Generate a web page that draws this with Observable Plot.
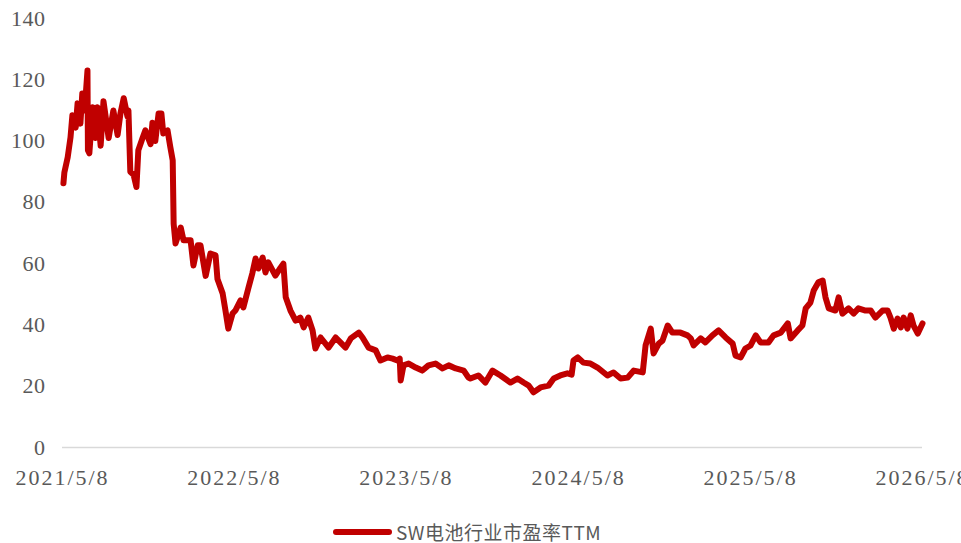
<!DOCTYPE html>
<html>
<head>
<meta charset="utf-8">
<script src="https://cdn.jsdelivr.net/npm/d3@7"></script>
<script src="https://cdn.jsdelivr.net/npm/@observablehq/plot@0.6"></script>
<style>
  html, body { margin: 0; padding: 0; background: #fff; overflow: hidden; }
  #wrap { position: relative; width: 961px; height: 543px; overflow: hidden; }
  #legend { position: absolute; left: 333px; top: 522px; height: 20px; line-height: 20px; display: flex; align-items: center;
    font-family: "Noto Sans CJK SC", "Noto Sans", sans-serif; font-size: 19px; letter-spacing: 0.5px; color: #595959; white-space: nowrap; }
  #legend .sw { width: 59px; height: 6px; background: #C00000; border-radius: 3px; margin-right: 4px; }
  .yax text { letter-spacing: 0.5px; }
  .xax text { letter-spacing: 2px; }
</style>
</head>
<body>
<div id="wrap">
  <div id="chart"></div>
  <div id="legend"><span class="sw"></span><span>SW电池行业市盈率TTM</span></div>
</div>
<script>
const seriesName = "SW电池行业市盈率TTM";
const dates = [
"2021-05-10","2021-05-12","2021-05-19","2021-05-25","2021-05-29","2021-06-05","2021-06-09","2021-06-15","2021-06-19","2021-06-24",
"2021-06-30","2021-07-01","2021-07-04","2021-07-11","2021-07-17","2021-07-21","2021-07-28","2021-08-03","2021-08-14","2021-08-24",
"2021-09-02","2021-09-08","2021-09-15","2021-09-23","2021-09-25","2021-09-29","2021-10-06","2021-10-12","2021-10-16","2021-10-25",
"2021-10-31","2021-11-11","2021-11-15","2021-11-21","2021-11-28","2021-12-04","2021-12-08","2021-12-17","2021-12-23","2021-12-28",
"2021-12-30","2022-01-03","2022-01-14","2022-01-20","2022-02-04","2022-02-10","2022-02-19","2022-02-25","2022-03-08","2022-03-18",
"2022-03-29","2022-04-02","2022-04-13","2022-04-19","2022-04-25","2022-05-04","2022-05-10","2022-05-21","2022-05-27","2022-06-07",
"2022-06-15","2022-06-22","2022-06-28","2022-07-07","2022-07-13","2022-07-19","2022-08-03","2022-08-14","2022-08-20","2022-08-25",
"2022-09-04","2022-09-15","2022-09-25","2022-10-02","2022-10-12","2022-10-21","2022-10-27","2022-11-07","2022-11-24","2022-12-09",
"2022-12-19","2022-12-30","2023-01-10","2023-01-27","2023-02-04","2023-02-17","2023-03-04","2023-03-14","2023-03-29","2023-04-09",
"2023-04-19","2023-04-24","2023-04-26","2023-05-02","2023-05-13","2023-05-28","2023-06-11","2023-06-24","2023-07-09","2023-07-24",
"2023-08-06","2023-08-21","2023-09-07","2023-09-17","2023-09-21","2023-10-08","2023-10-23","2023-11-07","2023-11-24","2023-12-15",
"2023-12-30","2024-01-12","2024-01-23","2024-02-02","2024-02-17","2024-03-05","2024-03-16","2024-03-30","2024-04-14","2024-04-23",
"2024-04-27","2024-05-06","2024-05-18","2024-06-02","2024-06-17","2024-07-08","2024-07-21","2024-08-05","2024-08-20","2024-09-02",
"2024-09-21","2024-09-27","2024-10-08","2024-10-14","2024-10-25","2024-11-02","2024-11-13","2024-11-23","2024-12-10","2024-12-25",
"2025-01-01","2025-01-07","2025-01-22","2025-02-01","2025-02-16","2025-03-01","2025-03-16","2025-03-31","2025-04-06","2025-04-17",
"2025-04-27","2025-05-08","2025-05-19","2025-05-29","2025-06-15","2025-06-26","2025-07-11","2025-07-26","2025-08-01","2025-08-16",
"2025-08-26","2025-09-02","2025-09-12","2025-09-19","2025-09-29","2025-10-08","2025-10-14","2025-10-21","2025-11-04","2025-11-11",
"2025-11-19","2025-12-02","2025-12-13","2025-12-23","2026-01-07","2026-01-18","2026-01-28","2026-02-12","2026-02-23","2026-03-01",
"2026-03-08","2026-03-16","2026-03-23","2026-03-29","2026-04-06","2026-04-13","2026-04-19","2026-04-28","2026-05-08"
];
const peValues = [
86.2,89.8,94.7,101.2,108.4,104.4,112.3,105.7,115.5,110,
123,97,96,111,101,111,98.5,113,101,110,
102,109,114,108,110,90,89,85,97,101,
103.5,99,106,100,109,109,102.5,103.5,98,93.7,
73,66.6,71.8,67.6,67.6,59.4,66,66,56,63.3,
62.7,55,50.3,44.7,38.8,43.7,44.7,48,45.7,52.2,
56.8,61.7,58.4,62,57.1,60.4,56.1,58.7,60,49,
44.7,41.4,42.4,39.2,42.4,38.2,32.3,35.9,32.6,35.9,
34.3,32.6,35.6,37.5,35.9,32.6,31.7,28.4,29.4,29,
28.4,29,21.9,26.8,27.4,26.1,25.1,26.8,27.4,25.8,
26.8,25.8,25.1,22.8,22.5,23.5,21.2,25.1,23.5,21.2,
22.5,21.2,20.2,18,19.6,20.2,22.5,23.5,24.2,23.8,
28.4,29.4,27.7,27.4,26.1,23.5,24.5,22.5,22.8,25.1,
24.5,33.3,38.8,30.7,33.9,34.9,39.8,37.5,37.5,36.6,
35.6,33.3,35.6,34.3,36.6,38.2,35.9,33.9,30,29.4,
32.3,33.3,36.6,34.3,34.3,36.6,37.5,40.5,35.6,38.2,
39.8,45.4,47.3,51.2,53.9,54.5,49,45.4,44.7,49,
43.7,45.4,43.7,45.4,44.7,44.7,42.4,44.7,44.7,42.4,
38.8,42.1,39.2,42.4,38.8,43.1,39.8,37.2,40.5
];
const xTickDates = ["2021-05-08","2022-05-08","2023-05-08","2024-05-08","2025-05-08","2026-05-08"];
const yTicks = [0,20,40,60,80,100,120,140];

const data = dates.map((d, i) => ({date: new Date(d + "T00:00:00Z"), value: peValues[i]}));
const xt = xTickDates.map(d => new Date(d + "T00:00:00Z"));
const fmt = d => `${d.getUTCFullYear()}/${d.getUTCMonth() + 1}/${d.getUTCDate()}`;

const chart = Plot.plot({
  width: 961,
  height: 497,
  marginLeft: 62,
  marginRight: 39,
  marginTop: 18,
  marginBottom: 50,
  style: {fontFamily: "'Liberation Serif', 'DejaVu Serif', serif", fontSize: "22px", color: "#595959", background: "#fff", overflow: "visible"},
  x: {type: "utc", domain: [xt[0], xt[xt.length - 1]], ticks: xt, tickFormat: fmt, label: null},
  y: {domain: [0, 140], ticks: yTicks, label: null},
  marks: [
    Plot.axisY({ticks: yTicks, tickSize: 0, tickPadding: 17, className: "yax"}),
    Plot.axisX({ticks: xt, tickFormat: fmt, tickSize: 0, tickPadding: 22, className: "xax"}),
    Plot.ruleY([0], {stroke: "#d9d9d9", strokeWidth: 1.5}),
    Plot.line(data, {x: "date", y: "value", stroke: "#C00000", strokeWidth: 6, strokeLinejoin: "round", strokeLinecap: "round"})
  ]
});
document.getElementById("chart").appendChild(chart);
</script>
</body>
</html>
